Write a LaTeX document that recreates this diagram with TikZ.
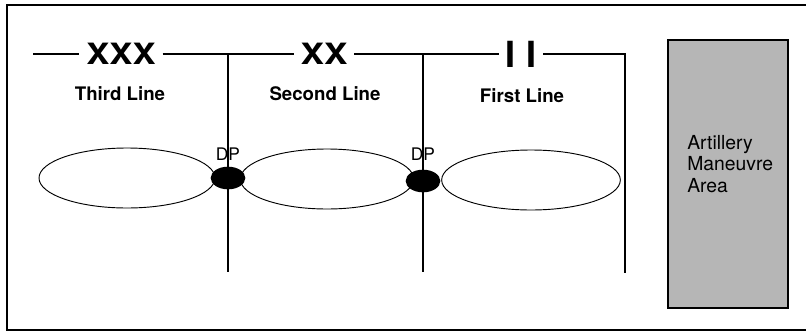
\documentclass[tikz,border=0pt]{standalone}
\usepackage{fontspec}
\usepackage{graphicx}
\setmainfont{TeX Gyre Heros}
\usetikzlibrary{shapes.geometric}
\definecolor{areagray}{RGB}{182,182,182}

\tikzset{
  rule/.style={line width=1.1pt},
  echelon/.style={font=\bfseries\fontsize{22}{22}\selectfont, inner sep=5pt},
  linelabel/.style={font=\bfseries\fontsize{14}{16}\selectfont},
  dplabel/.style={font=\fontsize{13}{13}\selectfont, inner sep=0pt},
  zone/.style={ellipse, draw, line width=0.7pt, minimum width=132pt, minimum height=45pt},
  dp/.style={ellipse, fill=black, minimum width=26pt, minimum height=17pt, inner sep=0pt},
}

\begin{document}
\begin{tikzpicture}[x=0.75pt, y=-0.75pt]
\useasboundingbox (0,0) rectangle (806,332);

% frame
\draw[line width=1.2pt] (806,5) -| (7,330) -- (806,330);

% echelon line
\coordinate (start) at (33,54);
\node[echelon] (xxx) at (121,54) {\scalebox{1.18}[1]{XXX}};
\node[echelon] (xx) at (324,54) {\scalebox{1.2}[1]{XX}};
\node[echelon, font=\bfseries\fontsize{27}{27}\selectfont] (ii) at (521,54) {I\hspace{8pt}I};
\coordinate (j1) at (228,54);
\coordinate (j2) at (423,54);
\coordinate (c3) at (625,54);
\coordinate (b1) at (228,272);
\coordinate (b2) at (423,272);
\coordinate (b3) at (625,273);

\draw[rule] (start) -- (xxx);
\draw[rule] (xxx) -- (xx);
\draw[rule] (xx) -- (ii);
\draw[rule] (ii) -- (c3) -- (b3);
\draw[rule] (j1) -- (b1);
\draw[rule] (j2) -- (b2);

\node[linelabel] (third) at (120,94) {Third Line};
\node[linelabel] (second) at (325,94) {Second Line};
\node[linelabel] (first) at (522,96) {First Line};

% defensive zones
\node[zone] (z3) at (127,178) {};
\node[zone, minimum width=130pt] (z2) at (327,179) {};
\node[zone, minimum width=134pt] (z1) at (531,180) {};

% depth positions
\node[dp] (dp1) at (228,178) {};
\node[dp] (dp2) at (423,181) {};
\node[dplabel] (dpl1) at (228,154) {DP};
\node[dplabel] (dpl2) at (423,154) {DP};

% artillery area
\draw[line width=1.1pt, fill=areagray] (668,40) rectangle (788,308);
\node[anchor=north west, inner sep=0pt, align=left, font=\fontsize{14.5}{16}\selectfont] (art) at (687,135) {Artillery\\Maneuvre\\Area};
\end{tikzpicture}
\end{document}
